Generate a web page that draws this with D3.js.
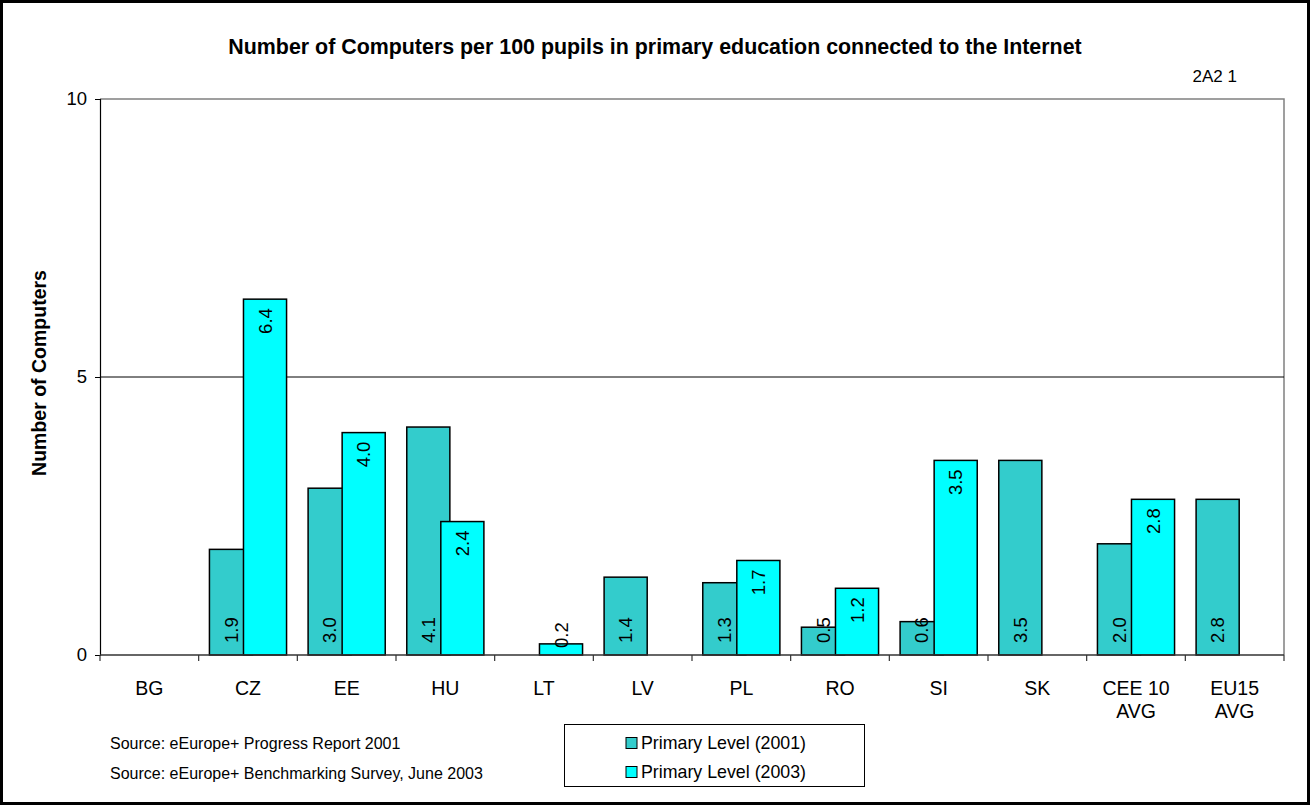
<!DOCTYPE html>
<html>
<head>
<meta charset="utf-8">
<script src="https://cdn.jsdelivr.net/npm/d3@7/dist/d3.min.js"></script>
<style>
  html, body { margin: 0; padding: 0; background: #fff; }
  svg { display: block; font-family: "Liberation Sans", Arial, sans-serif; }
</style>
</head>
<body>
<svg id="chart" width="1311" height="805"></svg>
<script>
// Countries / aggregates along the x axis
const categories = ["BG", "CZ", "EE", "HU", "LT", "LV", "PL", "RO", "SI", "SK", "CEE 10 AVG", "EU15 AVG"];
const categoryLines = [["BG"], ["CZ"], ["EE"], ["HU"], ["LT"], ["LV"], ["PL"], ["RO"], ["SI"], ["SK"], ["CEE 10", "AVG"], ["EU15", "AVG"]];
// Computers per 100 pupils (null = no data)
const values2001 = [null, 1.9, 3.0, 4.1, null, 1.4, 1.3, 0.5, 0.6, 3.5, 2.0, 2.8];
const values2003 = [null, 6.4, 4.0, 2.4, 0.2, null, 1.7, 1.2, 3.5, null, 2.8, null];
const seriesNames = ["Primary Level (2001)", "Primary Level (2003)"];
const yTicks = [0, 5, 10];
const sources = ["Source: eEurope+ Progress Report 2001", "Source: eEurope+ Benchmarking Survey, June  2003"];

const colors = ["#33CCCC", "#00FFFF"];
const svg = d3.select("#chart");
const W = 1311, H = 805;
const plot = { left: 100, right: 1284, top: 99, bottom: 655 };

// outer frame
svg.append("rect").attr("x", 1.5).attr("y", 1.5).attr("width", W - 4).attr("height", H - 3)
  .attr("fill", "#fff").attr("stroke", "#000").attr("stroke-width", 3);

// title
svg.append("text").attr("x", 655).attr("y", 54).attr("text-anchor", "middle")
  .attr("font-size", 21.4).attr("font-weight", "bold")
  .text("Number of Computers per 100 pupils in primary education connected to the Internet");
svg.append("text").attr("x", 1237).attr("y", 82).attr("text-anchor", "end")
  .attr("font-size", 17).text("2A2 1");

const x = d3.scaleBand().domain(categories).range([plot.left, plot.right]).padding(0);
const y = d3.scaleLinear().domain([0, 10]).range([plot.bottom, plot.top]);

// bar geometry: 50% gap width, 20% overlap between the two series
const gapW = 0.5, overlap = 0.21;
const barW = x.bandwidth() / (2 - overlap + gapW);
const barX = (cat, s) => x(cat) + barW * gapW / 2 + s * barW * (1 - overlap);

// plot border (top/right) and gridline
svg.append("path")
  .attr("d", `M${plot.left},${y(10)}H${plot.right}V${plot.bottom}`)
  .attr("fill", "none").attr("stroke", "#808080").attr("stroke-width", 1.5);
svg.append("line").attr("x1", plot.left).attr("x2", plot.right)
  .attr("y1", y(5)).attr("y2", y(5)).attr("stroke", "#000").attr("stroke-width", 1);

// bars
[values2001, values2003].forEach((vals, s) => {
  svg.append("g").selectAll("rect")
    .data(categories.map((c, i) => ({ c, v: vals[i] })).filter(d => d.v != null))
    .join("rect")
    .attr("x", d => barX(d.c, s))
    .attr("y", d => y(d.v))
    .attr("width", barW)
    .attr("height", d => y(0) - y(d.v))
    .attr("fill", colors[s]).attr("stroke", "#000").attr("stroke-width", 1.5);
});

// y axis
const yAxis = svg.append("g").attr("transform", `translate(${plot.left},0)`)
  .call(d3.axisLeft(y).tickValues(yTicks).tickSize(5).tickPadding(8).tickFormat(d3.format("d")));
yAxis.select(".domain").attr("stroke", "#000").attr("stroke-width", 1.2);
yAxis.selectAll(".tick line").attr("stroke", "#000");
yAxis.selectAll(".tick text").attr("font-size", 18.5).attr("font-family", "Liberation Sans, Arial, sans-serif").attr("fill", "#000");

// x axis baseline with tick marks on category boundaries
svg.append("line").attr("x1", plot.left).attr("x2", plot.right)
  .attr("y1", y(0)).attr("y2", y(0)).attr("stroke", "#333").attr("stroke-width", 1.5);
const bounds = categories.map(c => x(c)).concat([x(categories[categories.length - 1]) + x.bandwidth()]);
svg.append("g").selectAll("line").data(bounds).join("line")
  .attr("x1", d => d).attr("x2", d => d)
  .attr("y1", y(0)).attr("y2", y(0) + 6).attr("stroke", "#333").attr("stroke-width", 1.2);

// category labels
const catG = svg.append("g");
categories.forEach((c, i) => {
  const t = catG.append("text").attr("text-anchor", "middle").attr("font-size", 19.5)
    .attr("x", x(c) + x.bandwidth() / 2).attr("y", 695);
  categoryLines[i].forEach((line, k) => {
    t.append("tspan").attr("x", x(c) + x.bandwidth() / 2).attr("dy", k === 0 ? 0 : 23).text(line);
  });
});

// y axis title
svg.append("text").attr("transform", `translate(46,${(plot.top + plot.bottom) / 2 - 4}) rotate(-90)`)
  .attr("text-anchor", "middle").attr("font-size", 19.5).attr("font-weight", "bold")
  .text("Number of Computers");

// value labels, rotated
const fmt = d3.format(".1f");
const labelG = svg.append("g");
values2001.forEach((v, i) => {
  if (v == null) return;
  const cx = barX(categories[i], 0) + barW / 2;
  labelG.append("text")
    .attr("transform", `translate(${cx},${y(0) - 12}) rotate(-90)`)
    .attr("dy", "0.36em").attr("text-anchor", "start").attr("font-size", 18.5)
    .text(fmt(v));
});
values2003.forEach((v, i) => {
  if (v == null) return;
  const cx = barX(categories[i], 1) + barW / 2;
  const t = labelG.append("text").attr("dy", "0.36em").attr("text-anchor", "start")
    .attr("font-size", 18.5).text(fmt(v));
  const len = t.node().getComputedTextLength();
  const startY = Math.min(y(v) + 9 + len, y(0) - 7);
  t.attr("transform", `translate(${cx},${startY}) rotate(-90)`);
});

// sources
sources.forEach((s, i) => {
  svg.append("text").attr("x", 110).attr("y", 749 + i * 30).attr("font-size", 16).text(s);
});

// legend
const lg = svg.append("g");
lg.append("rect").attr("x", 564.5).attr("y", 724.5).attr("width", 300).attr("height", 62)
  .attr("fill", "#fff").attr("stroke", "#000").attr("stroke-width", 1);
seriesNames.forEach((n, i) => {
  const cy = 743 + i * 29;
  lg.append("rect").attr("x", 626).attr("y", cy - 5.5).attr("width", 11).attr("height", 11)
    .attr("fill", colors[i]).attr("stroke", "#000").attr("stroke-width", 1);
  lg.append("text").attr("x", 641).attr("y", cy).attr("dy", "0.36em").attr("font-size", 17.8).text(n);
});
</script>
</body>
</html>
